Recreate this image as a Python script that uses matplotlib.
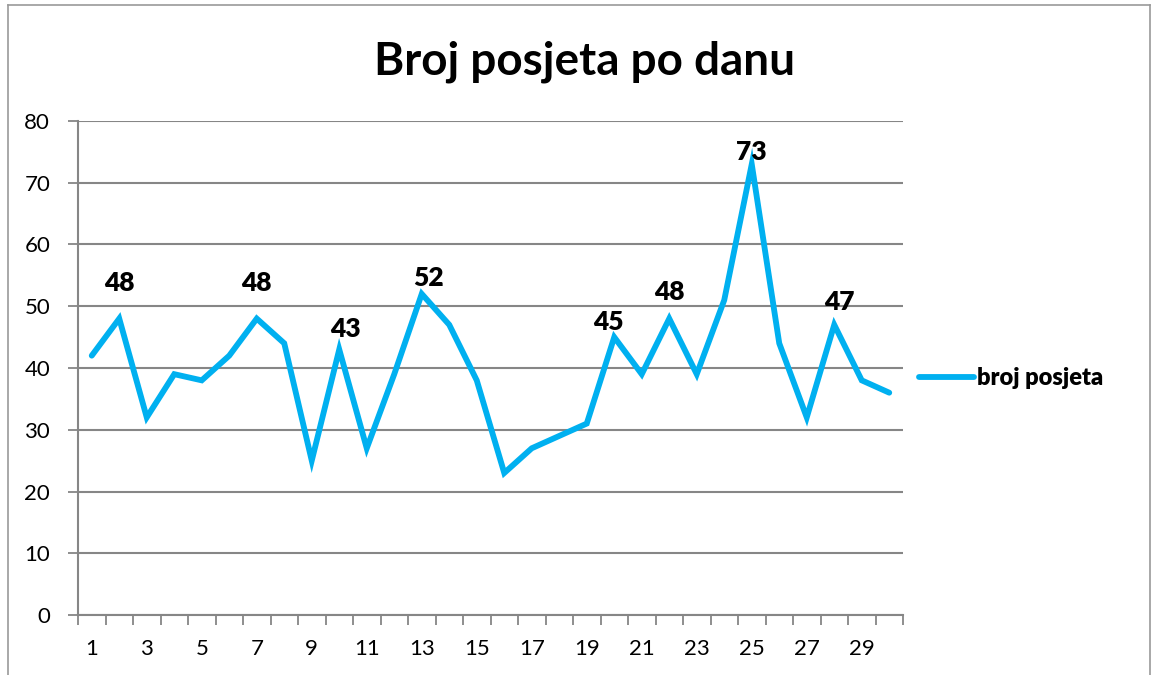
import matplotlib
matplotlib.use("Agg")
import matplotlib.pyplot as plt
from matplotlib.lines import Line2D

days = list(range(1, 31))
visits = [42, 48, 32, 39, 38, 42, 48, 44, 25, 43, 27, 39, 52, 47, 38,
          23, 27, 29, 31, 45, 39, 48, 39, 51, 73, 44, 32, 47, 38, 36]
labeled_days = [2, 7, 10, 13, 20, 22, 25, 28]
title = "Broj posjeta po danu"
series_name = "broj posjeta"
y_ticks = [0, 10, 20, 30, 40, 50, 60, 70, 80]

# label placement (pixel offsets of label centre from the point), style only
label_offsets = {2: (0, 36), 7: (0, 36), 10: (6, 20), 13: (7, 16),
                 20: (-6, 15), 22: (0, 27), 25: (0, 12), 28: (5, 23)}

plt.rcParams['font.family'] = ['Lato', 'DejaVu Sans']
color = "#00B0F0"
grid_c = "#868686"

fig = plt.figure(figsize=(11.59, 6.75), dpi=100)
ax = fig.add_axes([78/1159, 1-615/675, (903-78)/1159, (615-121)/675])

ax.plot(days, visits, color=color, lw=4.2, solid_joinstyle='miter', solid_capstyle='round')
for d in labeled_days:
    v = visits[d-1]
    dx, dy = label_offsets[d]
    ax.annotate(str(v), (d, v), xytext=(dx*0.72, dy*0.72), textcoords='offset points',
                ha='center', va='center', fontsize=19, fontweight='heavy')

ax.set_xlim(0.5, 30.5)
ax.set_ylim(0, 80)
ax.set_yticks(y_ticks)
ax.set_yticklabels([str(t) for t in y_ticks], fontsize=16)
ax.set_xticks(days[::2])
ax.set_xticklabels([str(d) for d in days[::2]], fontsize=16)
ax.tick_params(axis='x', which='major', length=0, pad=17)
ax.set_xticks([d + 0.5 for d in range(0, 31)], minor=True)
ax.tick_params(axis='x', which='minor', length=7, width=1.3, color=grid_c, direction='out')
ax.tick_params(axis='y', length=7, width=1.3, color=grid_c, direction='out', pad=13)
ax.yaxis.grid(True, color=grid_c, lw=1.5)
ax.set_axisbelow(True)
for s in ['top', 'right']:
    ax.spines[s].set_visible(False)
for s in ['left', 'bottom']:
    ax.spines[s].set_color(grid_c)
    ax.spines[s].set_linewidth(1.5)

fig.text(585/1159, 1-62/675, title, ha='center', va='center', fontsize=33, fontweight='bold')

handle = Line2D([0], [0], color=color, lw=4.2, solid_capstyle='round')
leg = fig.legend([handle], [series_name], loc='center left', bbox_to_anchor=(898/1159, 1-378/675),
                 frameon=False, prop={'weight': 'heavy', 'size': 17}, handlelength=2.3, handletextpad=0.15)

# outer chart frame
fc = "#9a9a9a"
fig.add_artist(Line2D([8/1159, 8/1159], [0, 1-5/675], color=fc, lw=1.2, transform=fig.transFigure))
fig.add_artist(Line2D([8/1159, 1150/1159], [1-5/675, 1-5/675], color=fc, lw=1.2, transform=fig.transFigure))
fig.add_artist(Line2D([1150/1159, 1150/1159], [0, 1-5/675], color=fc, lw=1.2, transform=fig.transFigure))

fig.savefig("out.png", dpi=100)
